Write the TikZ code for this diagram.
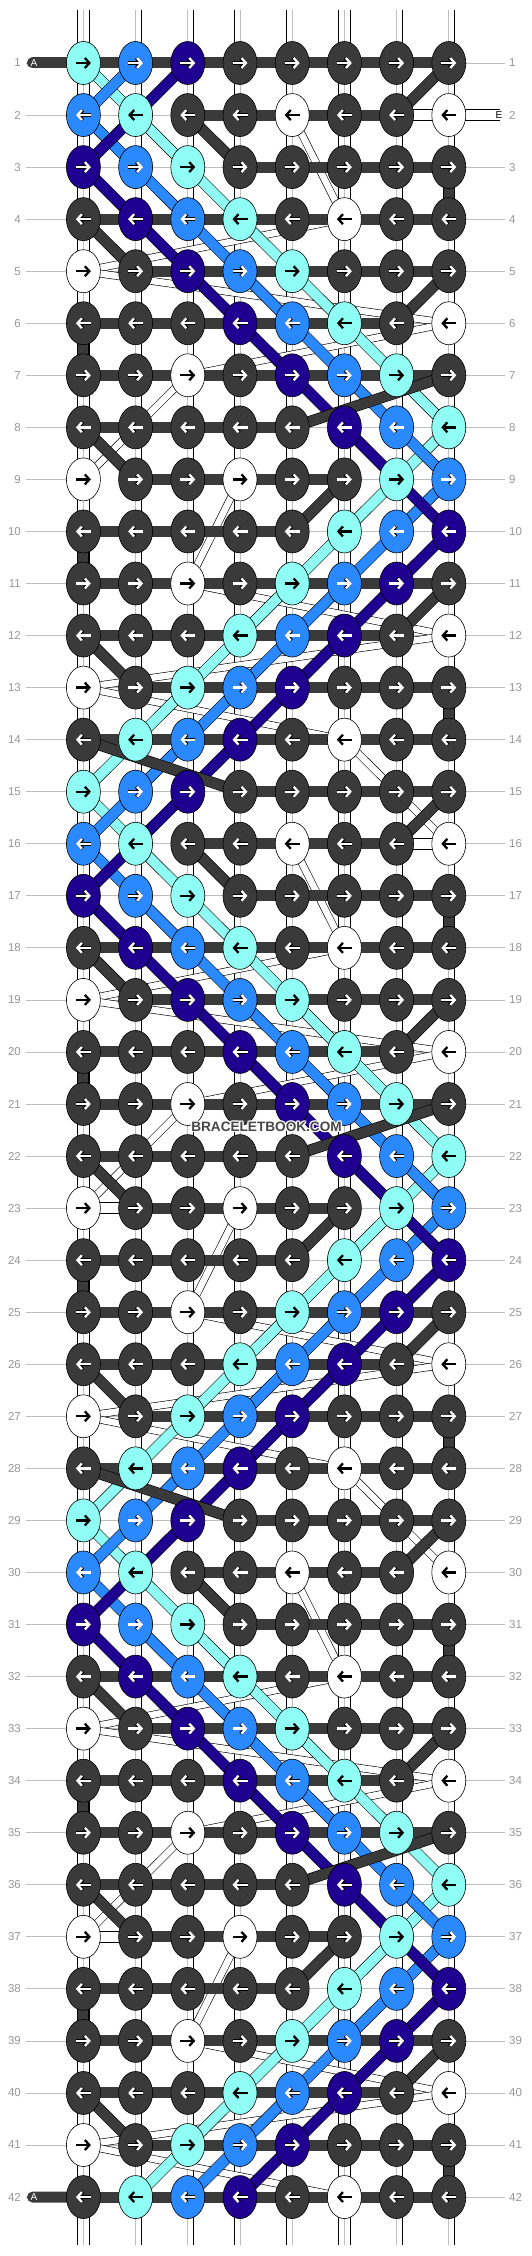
\documentclass[tikz,border=0pt]{standalone}
\usepackage{fontspec}
\setsansfont{Liberation Sans}
\usetikzlibrary{shapes.geometric,arrows.meta}

\definecolor{strD}{RGB}{58,58,58}
\definecolor{strW}{RGB}{255,255,255}
\definecolor{strC}{RGB}{143,253,243}
\definecolor{strB}{RGB}{43,137,255}
\definecolor{strI}{RGB}{32,0,145}
\definecolor{rowgray}{RGB}{190,190,190}
\definecolor{numgray}{RGB}{150,150,150}
\definecolor{markgray}{RGB}{70,70,70}

\tikzset{
  knot/.style={ellipse, draw=black, line width=0.6pt, minimum width=34pt, minimum height=43pt, inner sep=0pt},
  kD/.style={knot, fill=strD},
  kW/.style={knot, fill=strW},
  kC/.style={knot, fill=strC},
  kB/.style={knot, fill=strB},
  kI/.style={knot, fill=strI},
  tip/.style={line width=2.3pt, -{Straight Barb[length=4.5pt,width=10pt]}},
  aD/.style={tip, draw=white, preaction={draw=black, line width=3.5pt}},
  aB/.style={aD}, aI/.style={aD},
  aW/.style={tip, draw=black}, aC/.style={aW},
  warp/.style={line width=11pt, draw=white, line cap=round, preaction={draw=black, line width=12.2pt}, postaction={draw=black!25, line width=0.9pt}},
  sW/.style={line width=6.5pt, draw=white, preaction={draw=black, line width=7.7pt}},
  sC/.style={line width=10pt, draw=strC, preaction={draw=black, line width=11.2pt}},
  sB/.style={line width=10pt, draw=strB, preaction={draw=black, line width=11.2pt}},
  sI/.style={line width=10pt, draw=strI, preaction={draw=black, line width=11.2pt}},
  sD/.style={line width=10pt, draw=strD, preaction={draw=black, line width=11.2pt}},
  barD/.style={line width=11pt, draw=strD},
  barW/.style={line width=10.5pt, draw=white, preaction={draw=black, line width=11.7pt}},
  numlab/.style={font=\fontsize{11.5}{12}\selectfont\sffamily, text=numgray, inner sep=0pt},
  endlab/.style={font=\fontsize{10}{10}\selectfont\sffamily, inner sep=0pt}
}

\begin{document}
\begin{tikzpicture}[x=1pt,y=-1pt]
\useasboundingbox (0,0) rectangle (532,2256);

% grid of knot places
\foreach \r in {1,...,42}
  \foreach \c in {1,...,8}
    \coordinate (k-\r-\c) at ({83.4+52.2*(\c-1)},{63+52.05*(\r-1)});

% row guides and numbers
\foreach \r in {1,...,42} {
  \coordinate (l-\r) at (26,{63+52.05*(\r-1)});
  \coordinate (e-\r) at (505,{63+52.05*(\r-1)});
  \draw[rowgray, line width=0.8pt] (l-\r) -- (e-\r);
  \node[numlab, anchor=east] (nl-\r) at ([xshift=-5pt]l-\r) {\r};
  \node[numlab, anchor=west] (nr-\r) at ([xshift=4pt]e-\r) {\r};
}

% warps
\foreach \c in {1,...,8} {
  \coordinate (t-\c) at ({83.4+52.2*(\c-1)},10);
  \coordinate (b-\c) at ({83.4+52.2*(\c-1)},2245);
  \draw[warp] (t-\c) -- (b-\c);
}

% white strands
\foreach \p in {0,1,2}
  \foreach \ia/\ja/\ib/\jb in {2/5/4/6, 4/6/5/1, 5/1/6/8, 6/8/7/3, 7/3/9/1, 9/4/11/3, 11/3/12/8, 12/8/13/1, 13/1/14/6, 14/6/16/8} {
    \pgfmathtruncatemacro\ra{\ia+14*\p}
    \pgfmathtruncatemacro\rb{\ib+14*\p}
    \ifnum\rb<43 \draw[sW] (k-\ra-\ja) -- (k-\rb-\jb); \fi
  }
\foreach \p in {0,1,2} {
  \pgfmathtruncatemacro\ra{2+14*\p}
  \pgfmathtruncatemacro\rb{9+14*\p}
  \draw[barW] (k-\ra-7) -- (k-\ra-8);
  \draw[barW] (k-\rb-1) -- (k-\rb-2);
}
\coordinate (wE) at (499.5,115.05);
\draw[barW, line cap=round] (k-2-8) -- (wE);
\node[endlab, text=black] (lbE) at (499,115.05) {E};

% coloured strands
\foreach \s/\segs in {
  sC/{1/1/2/2, 2/2/3/3, 3/3/4/4, 4/4/5/5, 5/5/6/6, 6/6/7/7, 7/7/8/8, 8/8/9/7, 9/7/10/6, 10/6/11/5, 11/5/12/4, 12/4/13/3, 13/3/14/2, 14/2/15/1},
  sB/{1/2/2/1, 2/1/3/2, 3/2/4/3, 4/3/5/4, 5/4/6/5, 6/5/7/6, 7/6/8/7, 8/7/9/8, 9/8/10/7, 10/7/11/6, 11/6/12/5, 12/5/13/4, 13/4/14/3, 14/3/15/2},
  sI/{1/3/3/1, 3/1/4/2, 4/2/5/3, 5/3/6/4, 6/4/7/5, 7/5/8/6, 8/6/10/8, 10/8/11/7, 11/7/12/6, 12/6/13/5, 13/5/14/4, 14/4/15/3}}
  \foreach \p in {0,1,2}
    \foreach \ia/\ja/\ib/\jb in \segs {
      \pgfmathtruncatemacro\ra{\ia+14*\p}
      \pgfmathtruncatemacro\rb{\ib+14*\p}
      \ifnum\rb<43 \draw[\s] (k-\ra-\ja) -- (k-\rb-\jb); \fi
    }

% dark weft rows
\foreach \p in {0,1,2}
  \foreach \m/\f/\l in {1/4/7, 2/3/6, 3/4/7, 4/1/7, 5/2/7, 6/1/6, 7/1/7, 8/1/4, 9/2/5, 10/1/4, 11/1/7, 12/1/6, 13/2/7, 14/1/7} {
    \pgfmathtruncatemacro\r{\m+14*\p}
    \pgfmathtruncatemacro\lastc{\l+1}
    \draw[barD] (k-\r-\f) -- (k-\r-\lastc);
  }
\coordinate (wA) at (32.5,63);
\coordinate (wZ) at (32.5,2197.05);
\draw[barD, line cap=round] (wA) -- (k-1-4);
\draw[barD, line cap=round] (wZ) -- (k-42-1);
\node[endlab, text=white] (lbA) at (34,63) {A};
\node[endlab, text=white] (lbZ) at (34,2197.05) {A};

% dark diagonals and drops
\foreach \p in {0,1,2}
  \foreach \ia/\ja/\ib/\jb in {1/8/2/7, 2/3/3/4, 4/1/5/2, 5/8/6/7, 7/8/8/5, 8/1/9/2, 9/6/10/5, 11/8/12/7, 12/1/13/2, 14/1/15/4, 3/8/4/8, 6/1/7/1, 10/1/11/1, 13/8/14/8} {
    \pgfmathtruncatemacro\ra{\ia+14*\p}
    \pgfmathtruncatemacro\rb{\ib+14*\p}
    \ifnum\rb<43 \draw[sD] (k-\ra-\ja) -- (k-\rb-\jb); \fi
  }

% knots
\foreach \m/\keys in {
  1/{C,B,I,D,D,D,D,D}, 2/{B,C,D,D,W,D,D,W}, 3/{I,B,C,D,D,D,D,D}, 4/{D,I,B,C,D,W,D,D},
  5/{W,D,I,B,C,D,D,D}, 6/{D,D,D,I,B,C,D,W}, 7/{D,D,W,D,I,B,C,D}, 8/{D,D,D,D,D,I,B,C},
  9/{W,D,D,W,D,D,C,B}, 10/{D,D,D,D,D,C,B,I}, 11/{D,D,W,D,C,B,I,D}, 12/{D,D,D,C,B,I,D,W},
  13/{W,D,C,B,I,D,D,D}, 14/{D,C,B,I,D,W,D,D}}
  \foreach \p in {0,1,2} {
    \pgfmathtruncatemacro\r{\m+14*\p}
    \foreach \k [count=\c] in \keys {
      \node[k\k] (n-\r-\c) at (k-\r-\c) {};
      \ifodd\r
        \draw[a\k] ([xshift=-7.5pt]n-\r-\c.center) -- ([xshift=7.5pt]n-\r-\c.center);
      \else
        \draw[a\k] ([xshift=7.5pt]n-\r-\c.center) -- ([xshift=-7.5pt]n-\r-\c.center);
      \fi
    }
  }

% watermark
\foreach \dx/\dy in {-1.3/0, 1.3/0, 0/-1.3, 0/1.3, -1/-1, 1/1, -1/1, 1/-1}
  \node[font=\fontsize{13.6}{14}\selectfont\sffamily\bfseries, text=white, inner sep=0pt] at (266.5+\dx,1127+\dy) {BRACELETBOOK.COM};
\node[font=\fontsize{13.6}{14}\selectfont\sffamily\bfseries, text=markgray, inner sep=0pt] (wm) at (266.5,1127) {BRACELETBOOK.COM};
\end{tikzpicture}
\end{document}
